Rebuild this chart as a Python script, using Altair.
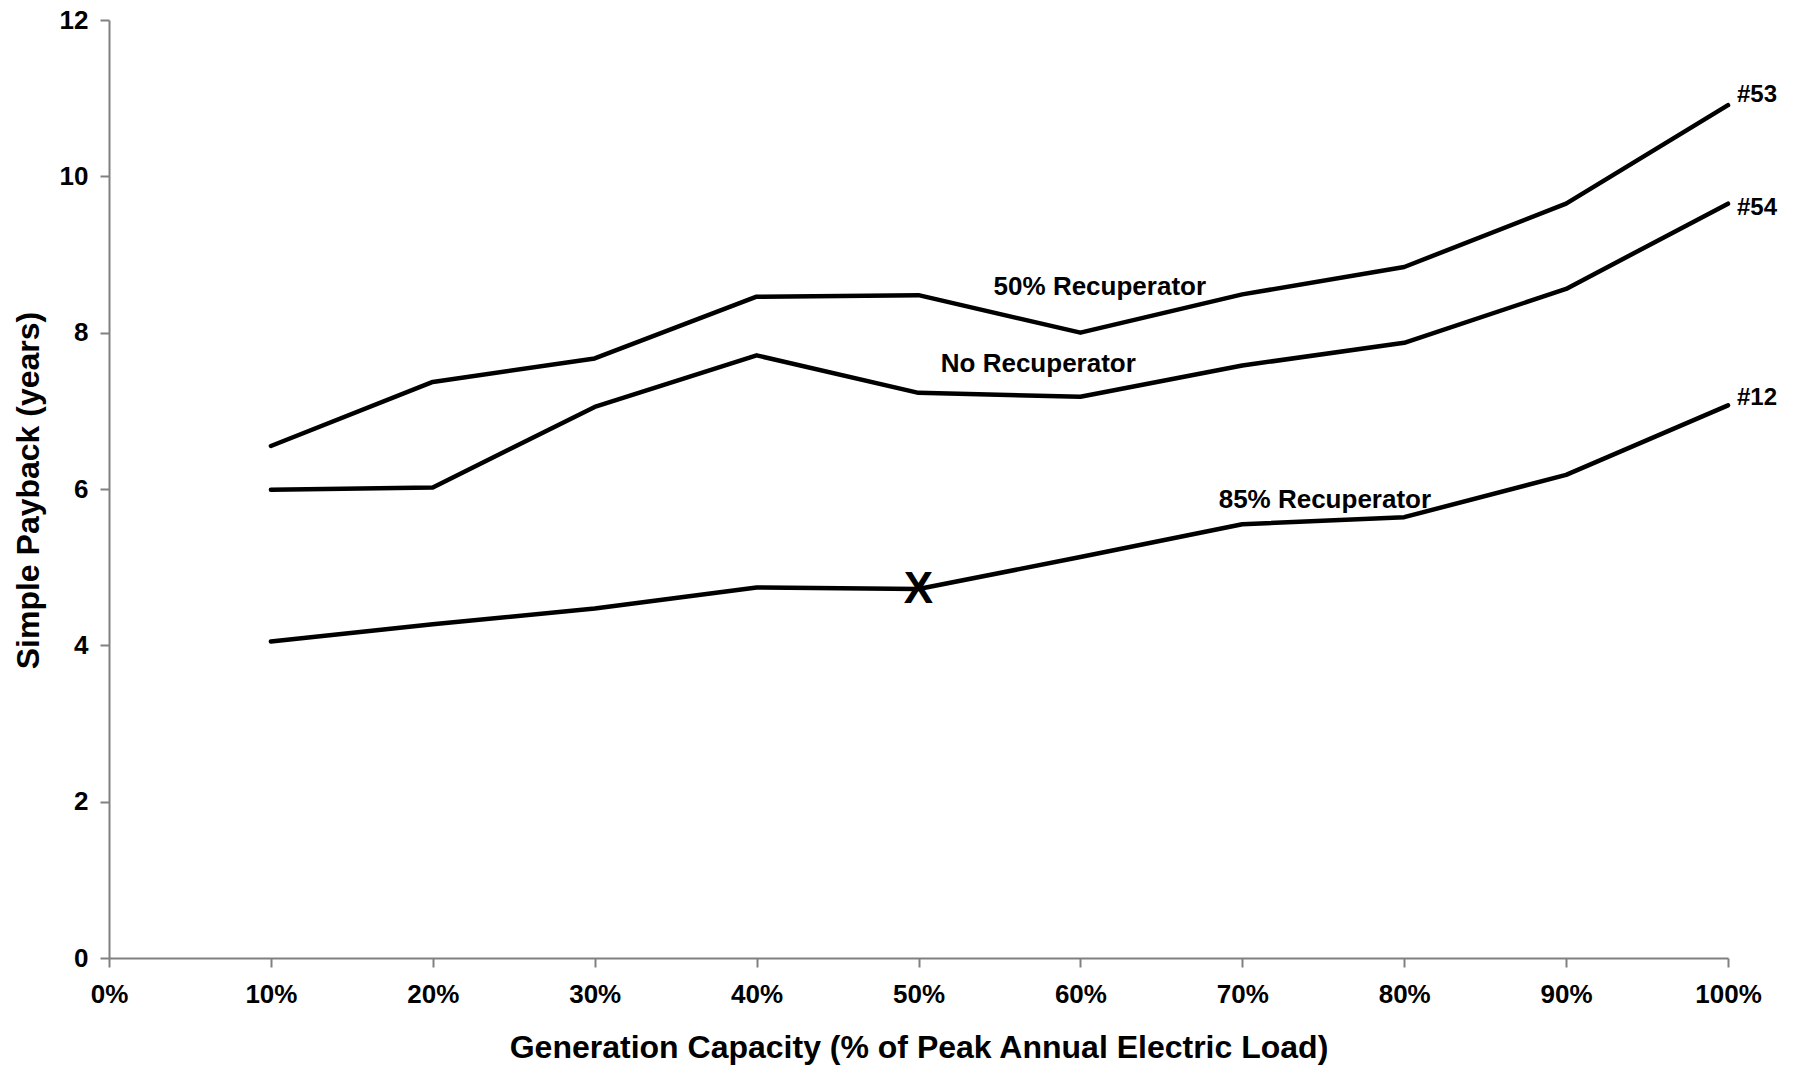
import altair as alt
import pandas as pd

# Data
capacity = [0.1, 0.2, 0.3, 0.4, 0.5, 0.6, 0.7, 0.8, 0.9, 1.0]
rec50 = [6.55, 7.37, 7.67, 8.46, 8.48, 8.00, 8.49, 8.84, 9.65, 10.91]
norec = [5.99, 6.02, 7.05, 7.71, 7.23, 7.18, 7.58, 7.87, 8.56, 9.65]
rec85 = [4.05, 4.27, 4.47, 4.74, 4.72, 5.13, 5.55, 5.64, 6.18, 7.07]
series_names = ["50% Recuperator", "No Recuperator", "85% Recuperator"]

# in-line labels (text, x, y)
inline_text = ["50% Recuperator", "No Recuperator", "85% Recuperator"]
inline_x = [0.612, 0.574, 0.751]
inline_y = [8.59, 7.60, 5.86]

# end labels
end_text = ["#53", "#54", "#12"]
end_x = [1.0, 1.0, 1.0]
end_y = [11.04, 9.60, 7.16]

# marker
marker_text = ["X"]
marker_x = [0.5]
marker_y = [4.71]

FONT = "Liberation Sans"

rows = []
for name, vals in zip(series_names, [rec50, norec, rec85]):
    for c, v in zip(capacity, vals):
        rows.append({"series": name, "cap": c, "payback": v})
df = pd.DataFrame(rows)

x_scale = alt.Scale(domain=[0, 1], nice=False, zero=True)
y_scale = alt.Scale(domain=[0, 12], nice=False)

x_axis = alt.Axis(
    values=[i / 10 for i in range(11)], format=".0%",
    title="Generation Capacity (% of Peak Annual Electric Load)",
    grid=False, domainColor="#808080", domainWidth=2,
    tickColor="#808080", tickWidth=2, tickSize=9,
    labelFont=FONT, labelFontSize=26, labelFontWeight="bold", labelColor="black",
    labelPadding=14, labelFlush=False, labelOverlap=False,
    titleFont=FONT, titleFontSize=32, titleFontWeight="bold", titleColor="black",
    titleX=809.5, titleY=89, titleAnchor="middle", titleBaseline="middle", titleAlign="center",
)
y_axis = alt.Axis(
    values=[0, 2, 4, 6, 8, 10, 12], format="d", title="Simple Payback (years)",
    grid=False, domainColor="#808080", domainWidth=2,
    tickColor="#808080", tickWidth=2, tickSize=9,
    labelFont=FONT, labelFontSize=26, labelFontWeight="bold", labelColor="black",
    labelPadding=12, labelFlush=False,
    titleFont=FONT, titleFontSize=32, titleFontWeight="bold", titleColor="black",
    titleX=-81, titleY=470, titleBaseline="middle", titleAlign="center", titleAngle=270,
)

lines = alt.Chart(df).mark_line(color="black", strokeWidth=4.5, strokeJoin="round", strokeCap="round").encode(
    x=alt.X("cap:Q", scale=x_scale, axis=x_axis),
    y=alt.Y("payback:Q", scale=y_scale, axis=y_axis),
    detail="series:N",
)

inline_df = pd.DataFrame({"t": inline_text, "x": inline_x, "y": inline_y})
inline = alt.Chart(inline_df).mark_text(
    font=FONT, fontSize=26, fontWeight="bold", color="black", align="center", baseline="middle"
).encode(x=alt.X("x:Q", scale=x_scale), y=alt.Y("y:Q", scale=y_scale), text="t:N")

end_df = pd.DataFrame({"t": end_text, "x": end_x, "y": end_y})
ends = alt.Chart(end_df).mark_text(
    font=FONT, fontSize=24, fontWeight="bold", color="black", align="left", baseline="middle", dx=9
).encode(x=alt.X("x:Q", scale=x_scale), y=alt.Y("y:Q", scale=y_scale), text="t:N")

mk_df = pd.DataFrame({"t": marker_text, "x": marker_x, "y": marker_y})
marker = alt.Chart(mk_df).mark_text(
    font=FONT, fontSize=44, fontWeight="bold", color="black", align="center", baseline="middle"
).encode(x=alt.X("x:Q", scale=x_scale), y=alt.Y("y:Q", scale=y_scale), text="t:N")

chart = alt.layer(lines, inline, ends, marker).properties(
    width=1619, height=938,
    autosize=alt.AutoSizeParams(type="none"),
    padding={"left": 101, "top": 12, "right": 60, "bottom": 110},
    background="white",
).configure_view(stroke=None)

chart.save("out.html", embed_options={"renderer": "svg", "actions": False})
